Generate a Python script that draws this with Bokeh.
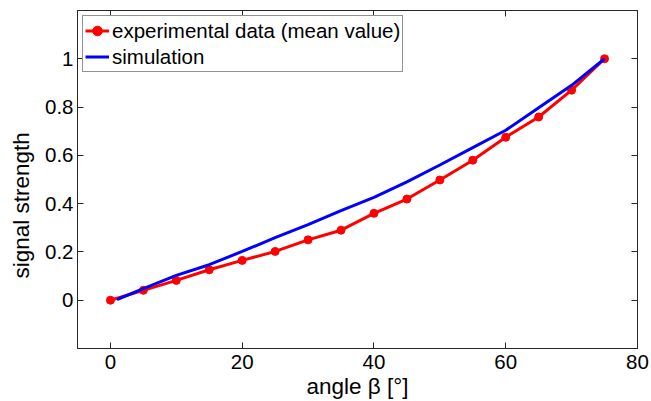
from bokeh.plotting import figure
from bokeh.models import Range1d, FixedTicker, LinearAxis, Legend, LegendItem, Title
from bokeh.embed import file_html
from bokeh.resources import INLINE

# experimental data (mean value)
exp_angle = [0, 5, 10, 15, 20, 25, 30, 35, 40, 45, 50, 55, 60, 65, 70, 75]
exp_signal = [0.0, 0.041, 0.082, 0.126, 0.165, 0.202, 0.25, 0.29, 0.36, 0.419,
              0.498, 0.58, 0.675, 0.759, 0.87, 1.0]

# simulation
sim_angle = [1, 5, 10, 15, 20, 25, 30, 35, 40, 45, 50, 55, 60, 65, 70, 75]
sim_signal = [0.003, 0.048, 0.103, 0.147, 0.202, 0.259, 0.313, 0.371, 0.426,
              0.49, 0.56, 0.632, 0.704, 0.797, 0.89, 1.0]

x_ticks = [0, 20, 40, 60, 80]
y_ticks = [0, 0.2, 0.4, 0.6, 0.8, 1.0]
y_tick_labels = ["0", "0.2", "0.4", "0.6", "0.8", "1"]

FONT = "Liberation Sans"

p = figure(width=651, height=401, output_backend="svg", toolbar_location=None,
           x_range=Range1d(-5, 80), y_range=Range1d(-0.2, 1.2),
           min_border_left=77, min_border_right=14, min_border_top=10,
           min_border_bottom=53, x_axis_location=None, y_axis_location=None)
p.grid.visible = False
p.outline_line_color = "#262626"
p.outline_line_width = 1
p.background_fill_color = "white"
p.border_fill_color = "white"

def style_axis(ax, labels=True):
    ax.axis_line_color = "#262626"
    ax.major_tick_line_color = "#262626"
    ax.major_tick_in = 6
    ax.major_tick_out = 0
    ax.minor_tick_line_color = None
    ax.major_label_text_font = FONT
    ax.major_label_text_color = "black"
    ax.major_label_text_font_size = "20.5px"
    ax.axis_label_text_font = FONT
    ax.axis_label_text_font_size = "22.5px"
    ax.axis_label_text_font_style = "normal"
    ax.axis_label_text_color = "black"
    if not labels:
        ax.major_label_overrides = {float(t): "" for t in ax.ticker.ticks}
        ax.major_label_standoff = 0

xb = LinearAxis(ticker=FixedTicker(ticks=x_ticks), axis_label="angle β [°]")
style_axis(xb)
xb.major_label_standoff = 6
xb.axis_label_standoff = 2
p.add_layout(xb, "below")

yl = LinearAxis(ticker=FixedTicker(ticks=y_ticks))
style_axis(yl)
yl.major_label_standoff = 4
yl.major_label_overrides = {float(t): s for t, s in zip(y_ticks, y_tick_labels)}
p.add_layout(yl, "left")

ytitle = Title(text="signal strength", align="left", offset=70,
               vertical_align="middle", standoff=15,
               text_font=FONT, text_font_size="22.5px",
               text_font_style="normal", text_color="black")
p.add_layout(ytitle, "left")

xt = LinearAxis(ticker=FixedTicker(ticks=x_ticks))
style_axis(xt, labels=False)
p.add_layout(xt, "above")

yr = LinearAxis(ticker=FixedTicker(ticks=y_ticks))
style_axis(yr, labels=False)
p.add_layout(yr, "right")

r_line = p.line(exp_angle, exp_signal, line_color="#ff0000", line_width=3)
r_pts = p.scatter(exp_angle, exp_signal, marker="circle", size=8,
                  fill_color="#ff0000", line_color="#ff0000")
b_line = p.line(sim_angle, sim_signal, line_color="#0000ff", line_width=3)

legend = Legend(items=[
    LegendItem(label="experimental data (mean value)", renderers=[r_line, r_pts]),
    LegendItem(label="simulation", renderers=[b_line]),
], location="top_left")
legend.label_text_font = FONT
legend.label_text_font_size = "20.5px"
legend.label_text_color = "black"
legend.glyph_width = 24
legend.glyph_height = 25
legend.label_height = 25
legend.label_standoff = 3
legend.spacing = 1
legend.padding = 2
legend.margin = 5
legend.border_line_color = "#262626"
legend.border_line_width = 1
legend.background_fill_alpha = 1
p.add_layout(legend, "center")

open("out.html", "w").write(file_html(p, INLINE))
